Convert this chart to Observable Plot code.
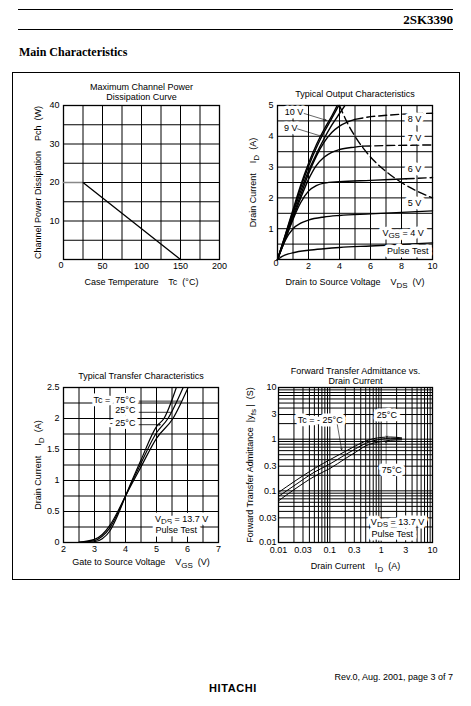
<!DOCTYPE html>
<html><head><meta charset="utf-8">
<script src="https://cdn.jsdelivr.net/npm/d3@7"></script>
<script src="https://cdn.jsdelivr.net/npm/@observablehq/plot@0.6"></script>
<style>
html,body{margin:0;padding:0;background:#fff;}
#page{position:relative;width:471px;height:706px;overflow:hidden;font-family:"Liberation Sans",Arial,sans-serif;color:#000;}
.abs{position:absolute;white-space:pre;}
svg text{white-space:pre;}
</style></head><body><div id="page">
<div class="abs" style="left:18px;top:9px;width:435px;border-top:1.2px solid #000"></div>
<div class="abs" style="right:18px;top:13px;font:bold 13px/13px 'Liberation Serif',serif;">2SK3390</div>
<div class="abs" style="left:18px;top:28.5px;width:435px;border-top:1.2px solid #000"></div>
<div class="abs" style="left:19px;top:46px;font:bold 12px/12px 'Liberation Serif',serif;">Main Characteristics</div>
<div class="abs" style="left:12px;top:72px;width:448px;height:508px;box-sizing:border-box;border:1.5px solid #000"></div>
<div class="abs" style="right:18px;top:672px;font:9px/10px 'Liberation Sans',sans-serif;">Rev.0, Aug. 2001, page 3 of 7</div>
<div class="abs" style="left:209px;top:682px;font:bold 11px/12px 'Liberation Sans',sans-serif;letter-spacing:0.6px;">HITACHI</div>
</div>
<script>
// ---------- Data ----------
// Chart 1: Maximum channel power dissipation
const c1Flat = [[0, 20], [25, 20]];
const c1Derate = [[25, 20], [150, 0]];
const c1GridX = [25, 50, 75, 100, 125, 150, 175];
const c1GridY = [5, 10, 15, 20, 25, 30, 35];
const c1TicksX = [50, 100, 150, 200];
const c1TicksY = [10, 20, 30, 40];

// Chart 2: Typical output characteristics (VDS, ID)
const c2Steep1 = [[0,0],[0.5,0.8],[1,1.62],[1.5,2.42],[2,3.12],[2.5,3.72],[3,4.22],[3.5,4.66],[3.85,5.0]];
const c2Steep2 = [[0,0],[0.5,0.78],[1,1.56],[1.5,2.34],[2,3.02],[2.5,3.62],[3,4.13],[3.5,4.58],[3.95,5.0]];
const c2Steep3 = [[0,0],[0.5,0.75],[1,1.5],[1.5,2.22],[2,2.87],[2.5,3.42],[3,3.92],[3.5,4.36],[4,4.74],[4.35,5.0]];
const c2V8 = [[0,0],[0.5,0.72],[1,1.42],[1.5,2.1],[2,2.78],[2.5,3.35],[3,3.8],[3.5,4.12],[4,4.33],[4.5,4.46],[5,4.55]];
const c2V8Dash = [[5,4.55],[6,4.64],[8,4.72],[10,4.75]];
const c2V7 = [[0,0],[0.5,0.68],[1,1.35],[1.5,2.0],[2,2.6],[2.5,3.05],[3,3.32],[3.5,3.48],[4,3.57],[5,3.65],[5.5,3.68]];
const c2V7Dash = [[5.5,3.68],[7,3.7],[10,3.72]];
const c2V6 = [[0,0],[0.5,0.65],[1,1.3],[1.5,1.85],[2,2.22],[2.5,2.4],[3,2.48],[4,2.53],[6,2.57],[8.3,2.62]];
const c2V6Dash = [[8.3,2.62],[10,2.66]];
const c2V5 = [[0,0],[0.25,0.33],[0.5,0.62],[1,1.0],[1.5,1.18],[2,1.28],[3,1.38],[4,1.43],[6,1.48],[8,1.53],[10,1.58]];
const c2V4 = [[0,0],[0.3,0.1],[0.7,0.18],[1,0.22],[2,0.3],[3,0.35],[4,0.39],[6,0.44],[8,0.49],[10,0.54]];
const c2Pch20 = [[4,5],[4.5,4.44],[5,4],[6,3.33],[7,2.86],[8,2.5],[9,2.22],[10,2]];
const c2GridX = [1,2,3,4,5,6,7,8,9];
const c2GridY = [0.5,1,1.5,2,2.5,3,3.5,4,4.5];
const c2TicksX = [2,4,6,8,10];
const c2TicksY = [1,2,3,4,5];

// Chart 3: Typical transfer characteristics (VGS, ID)
const c3T75 = [[2.5,0.005],[3,0.05],[3.25,0.13],[3.5,0.28],[3.75,0.5],[4,0.75],[4.5,1.22],[5,1.68],[5.53,2.0],[6.02,2.5]];
const c3T25 = [[2.5,0.002],[3,0.03],[3.25,0.1],[3.5,0.24],[3.75,0.47],[4,0.75],[4.5,1.28],[5,1.77],[5.37,2.0],[5.86,2.5]];
const c3Tm25 = [[2.5,0],[3,0.012],[3.25,0.06],[3.5,0.19],[3.75,0.44],[4,0.75],[4.5,1.33],[5,1.87],[5.24,2.0],[5.64,2.5]];
const c3GridX = [2.5,3,3.5,4,4.5,5,5.5,6,6.5];
const c3GridY = [0.25,0.5,0.75,1,1.25,1.5,1.75,2,2.25];
const c3TicksX = [2,3,4,5,6,7];
const c3TicksY = [0,0.5,1,1.5,2,2.5];

// Chart 4: Forward transfer admittance vs drain current (ID, |yfs|)
const c4Tm25 = [[0.01,0.093],[0.02,0.15],[0.05,0.27],[0.1,0.4],[0.2,0.58],[0.3,0.72],[0.5,0.92],[1,1.08],[1.5,1.1],[2.5,1.06]];
const c4T25 = [[0.01,0.078],[0.02,0.125],[0.05,0.23],[0.1,0.33],[0.2,0.5],[0.3,0.63],[0.5,0.83],[1,1.0],[1.5,1.04],[2.5,1.02]];
const c4T75 = [[0.01,0.064],[0.02,0.105],[0.05,0.19],[0.1,0.27],[0.2,0.42],[0.3,0.54],[0.5,0.74],[1,0.9],[1.5,0.95],[2.5,0.97]];
const c4Grid = [0.02,0.03,0.04,0.05,0.06,0.07,0.08,0.09,0.1,0.2,0.3,0.4,0.5,0.6,0.7,0.8,0.9,1,2,3,4,5,6,7,8,9];
const c4Ticks = [0.01,0.03,0.1,0.3,1,3,10];

// ---------- Helpers ----------
const page = document.getElementById("page");
const ML = 55, MT = 35, MR = 20, MB = 35;
const FONT = "'Liberation Sans', Arial, sans-serif";
const NS = "http://www.w3.org/2000/svg";

function subs(svg) {
  for (const el of [...svg.querySelectorAll("text, tspan")]) {
    if (el.querySelector("tspan")) continue;
    const s = el.textContent;
    if (!s.includes("_{")) continue;
    el.textContent = "";
    const re = /_\{([^}]*)\}/g;
    let last = 0, m, shifted = false;
    const add = (t, sub) => {
      if (!t) return;
      const ts = document.createElementNS(NS, "tspan");
      ts.textContent = t;
      if (sub) { ts.setAttribute("dy", "2.5"); ts.setAttribute("font-size", "8"); shifted = true; }
      else if (shifted) { ts.setAttribute("dy", "-2.5"); shifted = false; }
      el.appendChild(ts);
    };
    while ((m = re.exec(s))) { add(s.slice(last, m.index), false); add(m[1], true); last = re.lastIndex; }
    add(s.slice(last), false);
  }
}

function chart(frame, x, y, marks) {
  const [x0, y0, x1, y1] = frame;
  const svg = Plot.plot({
    width: x1 - x0 + ML + MR, height: y1 - y0 + MT + MB,
    marginLeft: ML, marginTop: MT, marginRight: MR, marginBottom: MB,
    x: {...x, axis: null}, y: {...y, axis: null},
    style: {fontFamily: FONT, fontSize: "9px", background: "transparent", overflow: "visible", color: "#000"},
    marks
  });
  subs(svg);
  svg.style.position = "absolute";
  svg.style.left = (x0 - ML) + "px";
  svg.style.top = (y0 - MT) + "px";
  svg.style.maxWidth = "none";
  page.appendChild(svg);
}

const grid = (gx, gy) => [
  Plot.ruleX(gx, {stroke: "#000", strokeWidth: 1}),
  Plot.ruleY(gy, {stroke: "#000", strokeWidth: 1}),
  Plot.frame({stroke: "#000", strokeWidth: 1.3})
];
// label with a white box-like halo drawn underneath the black text
const label = (t, opts, halo = 7) => [
  Plot.text([t], {...opts, fill: "#fff", stroke: "#fff", strokeWidth: halo, strokeLinejoin: "round"}),
  Plot.text([t], {...opts, fill: "#000"})
];
const title = (t, dy) => Plot.text([t], {frameAnchor: "top", lineAnchor: "middle", dy, lineHeight: 1.2, fontSize: 9});
const xLabel = (t, dy) => Plot.text([t], {frameAnchor: "bottom", lineAnchor: "middle", textAnchor: "middle", dy, fontSize: 9});
const yLabel = (t, dx) => Plot.text([t], {frameAnchor: "left", lineAnchor: "middle", textAnchor: "middle", dx, rotate: -90, fontSize: 9});
const fmt = d => String(d);

// ---------- Chart 1 ----------
chart([63, 105, 219, 259], {domain: [0, 200]}, {domain: [0, 40]}, [
  ...grid(c1GridX, c1GridY),
  Plot.line(c1Flat, {stroke: "#888", strokeWidth: 1.3}),
  Plot.line(c1Derate, {stroke: "#000", strokeWidth: 1.3}),
  Plot.axisX(c1TicksX, {tickSize: 0, tickPadding: 3, label: null}),
  Plot.axisY(c1TicksY, {tickSize: 0, tickPadding: 4, label: null}),
  Plot.text(["0"], {frameAnchor: "bottom-left", dx: -5, dy: 8}),
  title("Maximum Channel Power\nDissipation Curve", -14),
  xLabel("Case Temperature    Tc  (°C)", 23),
  yLabel("Channel Power Dissipation    Pch  (W)", -25)
]);

// ---------- Chart 2 ----------
const c2Solid = [c2Steep1, c2Steep2, c2Steep3, c2V8, c2V7, c2V6, c2V5, c2V4];
const c2Dash = [c2V8Dash, c2V7Dash, c2V6Dash];
chart([277, 105, 432, 259], {domain: [0, 10]}, {domain: [0, 5]}, [
  ...grid(c2GridX, c2GridY),
  ...c2Solid.map(d => Plot.line(d, {curve: "monotone-x", stroke: "#000", strokeWidth: 1.4})),
  ...c2Dash.map(d => Plot.line(d, {stroke: "#000", strokeWidth: 1.4, strokeDasharray: "8,4"})),
  Plot.line(c2Pch20, {curve: "monotone-x", stroke: "#000", strokeWidth: 1.4, strokeDasharray: "8,4"}),
  ...label("10 V", {x: 1.07, y: 4.78}),
  ...label("9 V", {x: 0.86, y: 4.27}),
  Plot.arrow([0], {x1: 1.72, y1: 4.74, x2: 3.15, y2: 4.52, stroke: "#000", strokeWidth: 0.6, headLength: 4}),
  Plot.arrow([0], {x1: 1.3, y1: 4.24, x2: 2.85, y2: 4.0, stroke: "#000", strokeWidth: 0.6, headLength: 4}),
  ...label("8 V", {x: 8.84, y: 4.55}),
  ...label("7 V", {x: 8.84, y: 3.95}),
  ...label("6 V", {x: 8.84, y: 2.93}),
  ...label("5 V", {x: 8.84, y: 1.83}),
  ...label("V_{GS} = 4 V", {x: 8.1, y: 0.87}),
  ...label("Pulse Test", {x: 8.4, y: 0.27}),
  Plot.axisX(c2TicksX, {tickSize: 0, tickPadding: 3, label: null}),
  Plot.axisY(c2TicksY, {tickSize: 0, tickPadding: 4, label: null}),
  Plot.text(["0"], {frameAnchor: "bottom-left", dx: -4, dy: 6}),
  title("Typical Output Characteristics", -12),
  xLabel("Drain to Source Voltage    V_{DS}  (V)", 23),
  yLabel("Drain Current    I_{D}  (A)", -24)
]);

// ---------- Chart 3 ----------
chart([63, 387, 218, 542], {domain: [2, 7]}, {domain: [0, 2.5]}, [
  ...grid(c3GridX, c3GridY),
  ...[c3T75, c3T25, c3Tm25].map(d => Plot.line(d, {curve: "monotone-x", stroke: "#000", strokeWidth: 1.2})),
  Plot.link([0], {x1: 4.42, y1: 2.28, x2: 5.8, y2: 2.28, stroke: "#000", strokeWidth: 0.8}),
  Plot.link([0], {x1: 4.42, y1: 2.1, x2: 5.47, y2: 2.1, stroke: "#000", strokeWidth: 0.8}),
  Plot.arrow([0], {x1: 4.42, y1: 1.9, x2: 5.12, y2: 1.9, stroke: "#000", strokeWidth: 0.8, headLength: 3}),
  ...label("Tc =  75°C", {x: 4.32, y: 2.3, textAnchor: "end"}),
  ...label("25°C", {x: 4.32, y: 2.13, textAnchor: "end"}),
  ...label("- 25°C", {x: 4.32, y: 1.93, textAnchor: "end"}),
  ...label("V_{DS} = 13.7 V", {x: 4.95, y: 0.38, textAnchor: "start"}),
  ...label("Pulse Test", {x: 4.97, y: 0.2, textAnchor: "start"}),
  Plot.axisX(c3TicksX, {tickSize: 0, tickPadding: 3, label: null, tickFormat: fmt}),
  Plot.axisY(c3TicksY, {tickSize: 0, tickPadding: 4, label: null, tickFormat: fmt}),
  title("Typical Transfer Characteristics", -12),
  xLabel("Gate to Source Voltage    V_{GS}  (V)", 20),
  yLabel("Drain Current    I_{D}  (A)", -25)
]);

// ---------- Chart 4 ----------
chart([278, 387, 432, 542], {type: "log", domain: [0.01, 10]}, {type: "log", domain: [0.01, 10]}, [
  ...grid(c4Grid, c4Grid),
  ...[c4Tm25, c4T25, c4T75].map(d => Plot.line(d, {curve: "monotone-x", stroke: "#000", strokeWidth: 1})),
  ...label("Tc = - 25°C", {x: 0.065, y: 2.37}),
  Plot.arrow([0], {x1: 0.14, y1: 1.9, x2: 0.17, y2: 0.62, stroke: "#000", strokeWidth: 0.6, headLength: 4}),
  ...label("25°C", {x: 1.29, y: 2.93}),
  Plot.arrow([0], {x1: 1.29, y1: 2.2, x2: 1.29, y2: 1.08, stroke: "#000", strokeWidth: 0.6, headLength: 4}),
  ...label("75°C", {x: 1.61, y: 0.25}),
  Plot.arrow([0], {x1: 1.25, y1: 0.34, x2: 1.25, y2: 0.9, stroke: "#000", strokeWidth: 0.6, headLength: 4}),
  ...label("V_{DS} = 13.7 V", {x: 0.63, y: 0.025, textAnchor: "start"}),
  ...label("Pulse Test", {x: 0.65, y: 0.0145, textAnchor: "start"}),
  // tick labels drawn from the log scales (every label shown)
  Plot.text(c4Ticks, {x: d => d, text: fmt, frameAnchor: "bottom", lineAnchor: "top", dy: 4}),
  Plot.text(c4Ticks, {y: d => d, text: fmt, frameAnchor: "left", textAnchor: "end", dx: -2}),
  title("Forward Transfer Admittance vs.\nDrain Current", -12),
  xLabel("Drain Current    I_{D}  (A)", 24),
  yLabel("Forward Transfer Admittance  |y_{fs} |  (S)", -28)
]);
</script>
</body></html>
